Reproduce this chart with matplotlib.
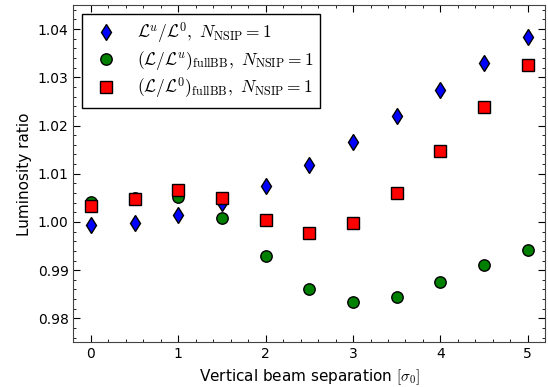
import numpy as np
import matplotlib
matplotlib.use("Agg")
import matplotlib.pyplot as plt
from matplotlib.ticker import MultipleLocator

plt.rcParams['mathtext.fontset'] = 'cm'

# data
sep = [0, 0.5, 1, 1.5, 2, 2.5, 3, 3.5, 4, 4.5, 5]
lu_l0 = [0.9993, 0.9997, 1.0014, 1.0040, 1.0075, 1.0118, 1.0165, 1.0219, 1.0273, 1.0329, 1.0384]
full_lu = [1.0041, 1.0049, 1.0051, 1.0009, 0.9929, 0.9862, 0.9834, 0.9845, 0.9875, 0.9911, 0.9942]
full_l0 = [1.0033, 1.0047, 1.0066, 1.0049, 1.0004, 0.9978, 0.9997, 1.0061, 1.0147, 1.0239, 1.0325]

fig = plt.figure(figsize=(5.48, 3.87), dpi=100)
ax = fig.add_axes([0.134, 0.115, 0.861, 0.872])

ax.plot(sep, lu_l0, 'd', color='blue', mec='black', ms=8.2,
        label=r'$\mathcal{L}^u/\mathcal{L}^0,\ N_{\rm NSIP}=1$')
ax.plot(sep, full_lu, 'o', color='green', mec='black', ms=8.2,
        label=r'$(\mathcal{L}/\mathcal{L}^u)_{\rm fullBB},\ N_{\rm NSIP}=1$')
ax.plot(sep, full_l0, 's', color='red', mec='black', ms=8,
        label=r'$(\mathcal{L}/\mathcal{L}^0)_{\rm fullBB},\ N_{\rm NSIP}=1$')

ax.set_xlim(-0.2, 5.2)
ax.set_ylim(0.975, 1.045)
ax.xaxis.set_major_locator(MultipleLocator(1))
ax.xaxis.set_minor_locator(MultipleLocator(0.2))
ax.yaxis.set_major_locator(MultipleLocator(0.01))
ax.yaxis.set_minor_locator(MultipleLocator(0.002))
ax.yaxis.set_major_formatter(matplotlib.ticker.FormatStrFormatter('%.2f'))
ax.tick_params(which='both', direction='in', top=True, right=True)
ax.tick_params(which='major', length=5)
ax.tick_params(which='minor', length=2.5)
for s in ax.spines.values():
    s.set_color('#444444')

ax.set_xlabel(r'Vertical beam separation $[\sigma_0]$', fontsize=11)
ax.set_ylabel('Luminosity ratio', fontsize=11)

leg = ax.legend(loc='upper left', numpoints=1, fontsize=12.5, fancybox=False,
                edgecolor='black', framealpha=1, labelspacing=0.2,
                borderpad=0.4, handlelength=1.95, handletextpad=0.8,
                borderaxespad=0.5)

fig.savefig('out.png')
